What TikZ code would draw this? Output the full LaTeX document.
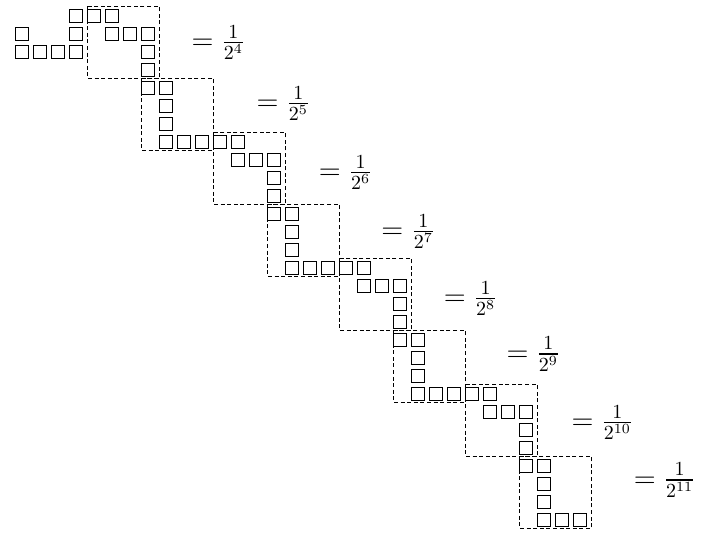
\documentclass[tikz,border=0pt]{standalone}
\usepackage{amsmath}
\begin{document}
\begin{tikzpicture}[x=9pt, y=-9pt,
    cell/.style={line width=.5pt},
    frame/.style={dash pattern=on 2pt off 1.3pt},
    eqn/.style={anchor=base west, inner sep=0pt, font=\Large}]
  \useasboundingbox (-1.222,-0.889) rectangle (38.167,29.167);

  % the squares, row by row
  \foreach \r/\cols in {0/{3,4,5}, 1/{0,3,5,6,7}, 2/{0,1,2,3,7}, 3/{7},
      4/{7,8}, 5/{8}, 6/{8}, 7/{8,9,10,11,12}, 8/{12,13,14}, 9/{14}, 10/{14},
      11/{14,15}, 12/{15}, 13/{15}, 14/{15,16,17,18,19}, 15/{19,20,21},
      16/{21}, 17/{21}, 18/{21,22}, 19/{22}, 20/{22}, 21/{22,23,24,25,26},
      22/{26,27,28}, 23/{28}, 24/{28}, 25/{28,29}, 26/{29}, 27/{29},
      28/{29,30,31}}
    \foreach \c in \cols
      \draw[cell] (\c-.361,\r-.361) rectangle (\c+.361,\r+.361);

  % dashed frames
  \foreach \c/\r/\w in {4/0/.5, 7/4/.5, 11/7/.5, 14/11/.5, 18/14/.6,
      21/18/.8, 25/21/.8, 28/25/.8}
    \draw[frame, line width=\w pt] (\c-.361,\r-.528) rectangle ++(4,4);

  % the values
  \foreach \n/\x/\y in {4/9.40/1.86, 5/13.01/5.25, 6/16.47/9.08,
      7/19.95/12.38, 8/23.41/16.08, 9/26.90/19.18, 10/30.51/22.97,
      11/33.97/26.18}
    \node[eqn] (E\n) at (\x,\y) {$= \frac{1}{2^{\n}}$};
\end{tikzpicture}
\end{document}
